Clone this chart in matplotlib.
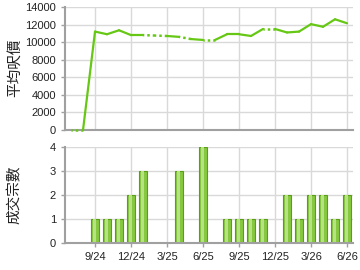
import numpy as np
import matplotlib
matplotlib.use('Agg')
import matplotlib.pyplot as plt

# 2024/7 - 2026/6
months = ['7/24', '8/24', '9/24', '10/24', '11/24', '12/24',
          '1/25', '2/25', '3/25', '4/25', '5/25', '6/25',
          '7/25', '8/25', '9/25', '10/25', '11/25', '12/25',
          '1/26', '2/26', '3/26', '4/26', '5/26', '6/26']
avg_price = [0, 0, 11200, 10900, 11350, 10800,
             10800, 10750, 10700, 10600, 10350, 10250,
             10250, 10900, 10900, 10700, 11500, 11500,
             11100, 11200, 12050, 11750, 12600, 12150]
deals = [0, 0, 1, 1, 1, 2,
         3, 0, 0, 3, 0, 4,
         0, 1, 1, 1, 1, 0,
         2, 1, 2, 2, 1, 2]
tick_labels = ['9/24', '12/24', '3/25', '6/25', '9/25', '12/25', '3/26', '6/26']

x = np.arange(len(months))
tick_pos = [months.index(t) for t in tick_labels]

line_c = '#66c814'
grid_c = '#d9d9d9'
spine_c = '#a0a0a0'
font = ['Liberation Sans', 'DejaVu Sans']
cjk = ['Noto Sans CJK TC', 'DejaVu Sans']

fig = plt.figure(figsize=(3.6, 2.7), dpi=100)
ax1 = fig.add_axes([0.1806, 0.5185, 0.80, 0.4556])
ax2 = fig.add_axes([0.1806, 0.10, 0.80, 0.3556])

def style(ax):
    for s in ['top', 'right']:
        ax.spines[s].set_visible(False)
    for s in ['left', 'bottom']:
        ax.spines[s].set_color(spine_c)
        ax.spines[s].set_linewidth(1.5)
    ax.grid(True, color=grid_c, linewidth=1)
    ax.set_axisbelow(True)
    ax.tick_params(colors=spine_c, labelcolor='#222222', length=3, width=1,
                   labelsize=8)
    ax.set_xlim(-0.5, len(months) - 0.5)
    ax.set_xticks(tick_pos)
    for lab in ax.get_yticklabels() + ax.get_xticklabels():
        lab.set_family(font)

# average price line: segment into a month without deals is dotted
missing = [d == 0 for d in deals]
for i in range(len(x) - 1):
    if missing[i + 1]:
        ax1.plot(x[i:i + 2], avg_price[i:i + 2], color=line_c,
                 lw=1.8, linestyle=(0.5, (1, 1.2)), dash_capstyle='butt',
                 clip_on=False, zorder=4)
    else:
        ax1.plot(x[i:i + 2], avg_price[i:i + 2], color=line_c, lw=1.6,
                 solid_capstyle='round', clip_on=False, zorder=4)
ax1.set_ylim(0, 14000)
ax1.set_yticks(range(0, 14001, 2000))
style(ax1)
ax1.set_xticklabels([])
ax1.tick_params(axis='x', length=0)

ax2.bar(x, deals, width=0.68, color='#86c840', edgecolor='#5a9e18', linewidth=0.8)
# lighter stripe for the shaded bar look
ax2.bar(x - 0.06, deals, width=0.26, color='#b6e283', linewidth=0)
ax2.set_ylim(0, 4)
ax2.set_yticks(range(0, 5))
style(ax2)
ax2.set_xticklabels(tick_labels)
for lab in ax2.get_xticklabels():
    lab.set_family(font)

fig.text(0.042, 0.75, '平均呎價', rotation=90, va='center', ha='center',
         fontsize=10.5, family=cjk, color='#222222')
fig.text(0.042, 0.28, '成交宗數', rotation=90, va='center', ha='center',
         fontsize=10.5, family=cjk, color='#222222')

fig.savefig('out.png', dpi=100)
